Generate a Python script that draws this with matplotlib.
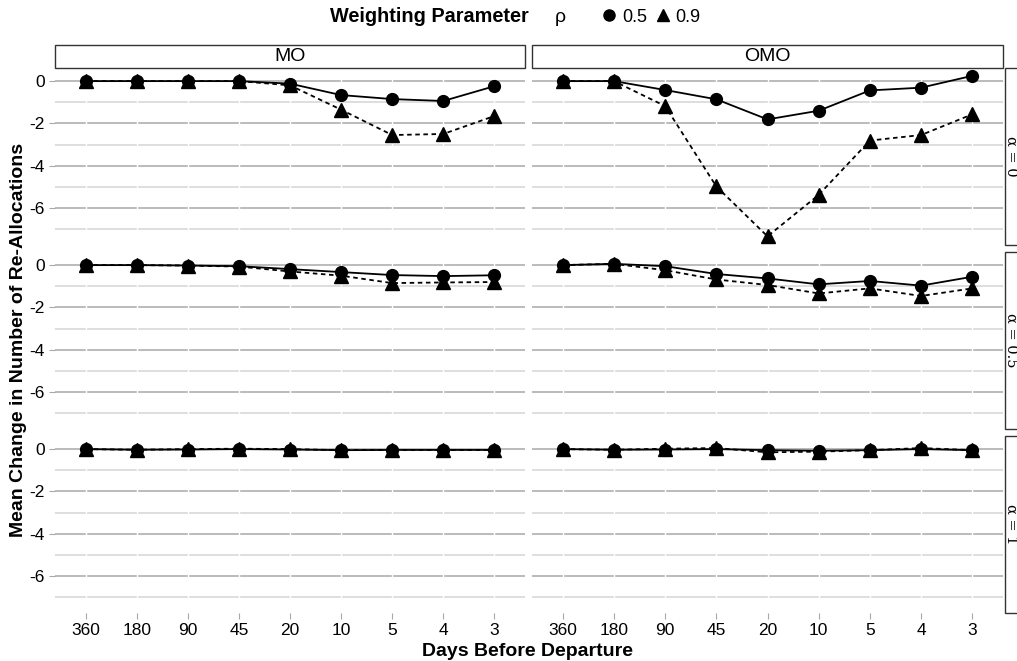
import matplotlib.pyplot as plt
from matplotlib.lines import Line2D
from matplotlib.patches import Rectangle

plt.rcParams['font.family'] = ['Liberation Sans', 'DejaVu Sans']

# 数据
days = ['360', '180', '90', '45', '20', '10', '5', '4', '3']
methods = ['MO', 'OMO']
alphas = ['α = 0', 'α = 0.5', 'α = 1']

# alpha = 0
mo_a0_r05 = [0, 0, 0, 0, -0.12, -0.66, -0.85, -0.94, -0.24]
mo_a0_r09 = [0, 0, 0, 0, -0.2, -1.35, -2.55, -2.5, -1.65]
omo_a0_r05 = [0, 0, -0.42, -0.86, -1.81, -1.4, -0.44, -0.31, 0.25]
omo_a0_r09 = [0, 0, -1.18, -4.98, -7.34, -5.38, -2.81, -2.55, -1.57]
# alpha = 0.5
mo_a05_r05 = [0, 0, -0.02, -0.05, -0.19, -0.33, -0.47, -0.52, -0.48]
mo_a05_r09 = [0, 0, -0.02, -0.07, -0.3, -0.5, -0.85, -0.82, -0.8]
omo_a05_r05 = [0, 0.06, -0.05, -0.42, -0.63, -0.91, -0.75, -0.97, -0.55]
omo_a05_r09 = [0, 0.06, -0.24, -0.68, -0.94, -1.34, -1.1, -1.46, -1.1]
# alpha = 1
mo_a1_r05 = [0, -0.03, -0.02, 0, -0.02, -0.05, -0.04, -0.04, -0.04]
mo_a1_r09 = [0, -0.03, 0, 0.02, 0, -0.05, -0.04, -0.04, -0.04]
omo_a1_r05 = [0, -0.03, -0.02, 0.0, -0.05, -0.08, -0.05, 0.0, -0.05]
omo_a1_r09 = [0, -0.03, 0.02, 0.05, -0.15, -0.12, -0.05, 0.05, -0.05]

data = {
    (0, 0): (mo_a0_r05, mo_a0_r09), (0, 1): (omo_a0_r05, omo_a0_r09),
    (1, 0): (mo_a05_r05, mo_a05_r09), (1, 1): (omo_a05_r05, omo_a05_r09),
    (2, 0): (mo_a1_r05, mo_a1_r09), (2, 1): (omo_a1_r05, omo_a1_r09),
}

W, H = 1017, 661
fig = plt.figure(figsize=(W / 100, H / 100), dpi=100)

col_x = [(55, 525), (532, 1003)]
row_y = [(68, 245), (252, 429), (436, 613)]
x = list(range(1, len(days) + 1))


def fbox(x0, x1, y0, y1):
    return [x0 / W, 1 - y1 / H, (x1 - x0) / W, (y1 - y0) / H]


for r in range(3):
    for c in range(2):
        ax = fig.add_axes(fbox(col_x[c][0], col_x[c][1], row_y[r][0], row_y[r][1]))
        for s in ax.spines.values():
            s.set_visible(False)
        ax.set_xlim(0.4, 9.6)
        ax.set_ylim(-7.75, 0.62)
        for v in [-1, -3, -5, -7]:
            ax.axhline(v, color='#d4d4d4', lw=1.1, zorder=0)
        for v in [0, -2, -4, -6]:
            ax.axhline(v, color='#a8a8a8', lw=1.1, zorder=0)
        for xi in x:
            ax.axvline(xi, color='white', lw=1.0, zorder=0.5)
        y05, y09 = data[(r, c)]
        ax.plot(x, y09, color='black', lw=1.3, ls=(0, (2.5, 2)), marker='^', ms=10, zorder=3)
        ax.plot(x, y05, color='black', lw=1.3, ls='-', marker='o', ms=8.5, zorder=3)
        ax.set_yticks([0, -2, -4, -6])
        ax.set_xticks(x)
        ax.tick_params(axis='both', color='#a8a8a8', length=4, labelsize=12.5, labelcolor='black')
        ax.tick_params(axis='x', pad=3)
        if c == 0:
            ax.set_yticklabels(['0', '-2', '-4', '-6'])
        else:
            ax.tick_params(axis='y', length=0, labelleft=False)
        if r == 2:
            ax.set_xticklabels(days)
        else:
            ax.tick_params(axis='x', length=0, labelbottom=False)

# 顶部分面标签
for c in range(2):
    x0, x1 = col_x[c]
    fig.add_artist(Rectangle((x0 / W, 1 - 68 / H), (x1 - x0) / W, 23 / H,
                             transform=fig.transFigure, fc='white', ec='#333333', lw=1))
    fig.text((x0 + x1) / 2 / W, 1 - 56.5 / H, methods[c], ha='center', va='center', fontsize=14)

# 右侧分面标签（参考图中被裁切）
for r in range(3):
    y0, y1 = row_y[r]
    fig.add_artist(Rectangle((1005 / W, 1 - y1 / H), 30 / W, (y1 - y0) / H,
                             transform=fig.transFigure, fc='white', ec='#333333', lw=1))
    fig.text(1011 / W, 1 - (y0 + y1) / 2 / H, alphas[r], ha='center', va='center',
             rotation=-90, fontsize=10.5, family=['DejaVu Serif'])

# 轴标题
fig.text(19 / W, 1 - 340 / H, 'Mean Change in Number of Re-Allocations', rotation=90,
         ha='center', va='center', fontsize=14, fontweight='bold')
fig.text(528 / W, 1 - 651 / H, 'Days Before Departure', ha='center', va='center',
         fontsize=14, fontweight='bold')

# 图例
fig.text(429 / W, 1 - 17 / H, 'Weighting Parameter', ha='center', va='center',
         fontsize=14.3, fontweight='bold')
fig.text(560 / W, 1 - 18 / H, 'ρ', ha='center', va='center', fontsize=14)
handles = [Line2D([], [], color='black', marker='o', ls='none', ms=8),
           Line2D([], [], color='black', marker='^', ls='none', ms=9)]
fig.legend(handles, ['0.5', '0.9'], loc='center left', bbox_to_anchor=(602 / W, 1 - 17 / H),
           ncol=2, frameon=False, handlelength=0.8, handletextpad=0.3, columnspacing=0.5,
           fontsize=13, borderpad=0, borderaxespad=0)

fig.savefig('out.png', dpi=100)
